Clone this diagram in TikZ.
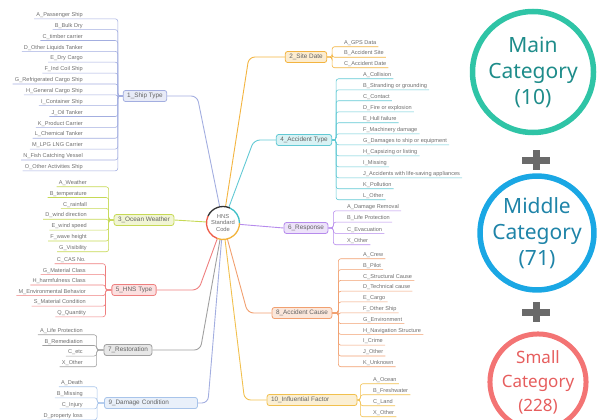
\documentclass[tikz,border=0pt]{standalone}
\usepackage{fontspec}
\setmainfont{Liberation Sans}
\newfontfamily\catfont{Noto Sans}

\definecolor{shipcol}{HTML}{A3AEE0}
\definecolor{weathercol}{HTML}{C6D955}
\definecolor{hnscol}{HTML}{EE7F7F}
\definecolor{restcol}{HTML}{A0A0A0}
\definecolor{damagecol}{HTML}{A8C4EA}
\definecolor{sitecol}{HTML}{F3B440}
\definecolor{typecol}{HTML}{62C9D4}
\definecolor{respcol}{HTML}{B68BEC}
\definecolor{causecol}{HTML}{F1A070}
\definecolor{factorcol}{HTML}{F1C04E}
\definecolor{leaftext}{HTML}{6E6E6E}
\definecolor{ringteal}{HTML}{3DBFC6}
\definecolor{ringdark}{HTML}{333333}
\definecolor{ringred}{HTML}{EE5C48}
\definecolor{ringgold}{HTML}{F2B33A}
\definecolor{maincol}{HTML}{2FC4A6}
\definecolor{maintext}{HTML}{1E8C8A}
\definecolor{midcol}{HTML}{1AA7E4}
\definecolor{midtext}{HTML}{1F84A8}
\definecolor{smallcol}{HTML}{F37474}
\definecolor{smalltext}{HTML}{E65E5E}
\definecolor{pluscol}{HTML}{6A6A6A}

\tikzset{
  leafl/.style={anchor=east, inner xsep=2pt, inner ysep=1pt, text=leaftext, font=\fontsize{5.6}{6.2}\selectfont},
  leafr/.style={leafl, anchor=west},
  twig/.style={draw=#1, line width=0.6pt, rounded corners=2.5pt},
  mainbox/.style={draw=#1, fill=#1!25, line width=0.8pt, rounded corners=2.5pt, inner xsep=4pt, inner ysep=2.6pt, text=leaftext!90!black, font=\fontsize{6.4}{7}\selectfont},
  limb/.style={draw=#1, line width=0.9pt, rounded corners=6pt},
  catring/.style={circle, draw=#1, line width=5.5pt, align=center, inner sep=0pt},
  plussign/.style={draw=pluscol, line width=7pt}
}

\begin{document}
\begin{tikzpicture}[x=1pt,y=1pt]
\useasboundingbox (0,0) rectangle (605,-420);

% centre topic
\node[circle, fill=white, minimum size=33pt, inner sep=0pt, outer sep=0pt, align=center, text=leaftext, font=\fontsize{5.8}{6.8}\selectfont] (hns) at (223,-223) {HNS\\Standard\\Code};

% main topics
\node[mainbox=shipcol] (b1) at (145,-96) {1\_Ship Type};
\node[mainbox=sitecol] (b2) at (306,-57) {2\_Site Date};
\node[mainbox=weathercol] (b3) at (144,-220) {3\_Ocean Weather};
\node[mainbox=typecol] (b4) at (304,-140) {4\_Accident Type};
\node[mainbox=hnscol] (b5) at (134,-290) {5\_HNS Type};
\node[mainbox=respcol] (b6) at (306,-228) {6\_Response};
\node[mainbox=restcol] (b7) at (128,-350) {7\_Restoration};
\node[mainbox=causecol] (b8) at (302,-313) {8\_Accident Cause};
\node[mainbox=damagecol, text width=85pt, align=left] (b9) at (151,-403) {9\_Damage Condition};
\node[mainbox=factorcol, text width=82pt, align=left] (b10) at (312,-400) {10\_Influential Factor};

% limbs to the centre
\draw[limb=shipcol] (b1.east) -- ++(30,0) -- (hns);
\draw[limb=weathercol] (b3.east) -- (hns);
\draw[limb=hnscol] (b5.east) -- ++(42,0) -- (hns);
\draw[limb=restcol] (b7.east) -- ++(48,0) -- (hns);
\draw[limb=shipcol] (b9.east) -- ++(10,0) -- (hns);
\draw[limb=sitecol] (b2.west) -- ++(-36,0) -- (hns);
\draw[limb=typecol] (b4.west) -- ++(-22,0) -- (hns);
\draw[limb=respcol] (hns) -- (b6.west);
\draw[limb=causecol] (b8.west) -- ++(-24,0) -- (hns);
\draw[limb=factorcol] (b10.west) -- ++(-22,0) -- (hns);

% coloured ring
\draw[ringteal, line width=1.3pt] (hns.0) arc[start angle=0, end angle=65, radius=16.5];
\draw[ringdark, line width=1.3pt] (hns.65) arc[start angle=65, end angle=155, radius=16.5];
\draw[ringred, line width=1.3pt] (hns.155) arc[start angle=155, end angle=250, radius=16.5];
\draw[ringgold, line width=1.3pt] (hns.250) arc[start angle=250, end angle=360, radius=16.5];

% 1 ship type
\coordinate (h1) at ([xshift=-5pt]b1.west);
\foreach \t [count=\i from 0] in {A\_Passenger Ship, B\_Bulk Dry, C\_timber carrier, D\_Other Liquids Tanker, E\_Dry Cargo, F\_Ind Coil Ship, G\_Refrigerated Cargo Ship, H\_General Cargo Ship, I\_Container Ship, J\_Oil Tanker, K\_Product Carrier, L\_Chemical Tanker, M\_LPG LNG Carrier, N\_Fish Catching Vessel, O\_Other Activities Ship} {
  \node[leafl] (l1-\i) at (85,{-15-10.86*\i}) {\t};
  \draw[twig=shipcol] (l1-\i.south west) -- (l1-\i.south west -| h1) -- (h1) -- (b1.west);
}

% 3 ocean weather
\coordinate (h3) at ([xshift=-5pt]b3.west);
\foreach \t [count=\i from 0] in {A\_Weather, B\_temperature, C\_rainfall, D\_wind direction, E\_wind speed, F\_wave height, G\_Visibility} {
  \node[leafl] (l3-\i) at (89,{-183-10.83*\i}) {\t};
  \draw[twig=weathercol] (l3-\i.south west) -- (l3-\i.south west -| h3) -- (h3) -- (b3.west);
}

% 5 hns type
\coordinate (h5) at ([xshift=-6pt]b5.west);
\foreach \t [count=\i from 0] in {C\_CAS No., G\_Material Class, H\_harmfulness Class, M\_Environmental Behavior, S\_Material Condition, Q\_Quantity} {
  \node[leafl] (l5-\i) at (88,{-260-10.6*\i}) {\t};
  \draw[twig=hnscol] (l5-\i.south west) -- (l5-\i.south west -| h5) -- (h5) -- (b5.west);
}

% 7 restoration
\coordinate (h7) at ([xshift=-7pt]b7.west);
\foreach \t [count=\i from 0] in {A\_Life Protection, B\_Remediation, C\_etc, X\_Other} {
  \node[leafl] (l7-\i) at (85,{-331-10.67*\i}) {\t};
  \draw[twig=restcol] (l7-\i.south west) -- (l7-\i.south west -| h7) -- (h7) -- (b7.west);
}

% 9 damage condition
\coordinate (h9) at ([xshift=-7pt]b9.west);
\foreach \t [count=\i from 0] in {A\_Death, B\_Missing, C\_Injury, D\_property loss} {
  \node[leafl] (l9-\i) at (85,{-383-11*\i}) {\t};
  \draw[twig=damagecol] (l9-\i.south west) -- (l9-\i.south west -| h9) -- (h9) -- (b9.west);
}

% 2 site date
\coordinate (h2) at ([xshift=5pt]b2.east);
\foreach \t [count=\i from 0] in {A\_GPS Data, B\_Accident Site, C\_Accident Date} {
  \node[leafr] (l2-\i) at (342,{-43-10.5*\i}) {\t};
  \draw[twig=sitecol] (l2-\i.south east) -- (l2-\i.south west -| h2) -- (h2) -- (b2.east);
}

% 4 accident type
\coordinate (h4) at ([xshift=4pt]b4.east);
\foreach \t [count=\i from 0] in {A\_Collision, B\_Stranding or grounding, C\_Contact, D\_Fire or explosion, E\_Hull failure, F\_Machinery damage, G\_Damages to ship or equipment, H\_Capsizing or listing, I\_Missing, J\_Accidents with life-saving appliances, K\_Pollution, L\_Other} {
  \node[leafr] (l4-\i) at (361,{-75-11*\i}) {\t};
  \draw[twig=typecol] (l4-\i.south east) -- (l4-\i.south west -| h4) -- (h4) -- (b4.east);
}

% 6 response
\coordinate (h6) at ([xshift=5pt]b6.east);
\foreach \t [count=\i from 0] in {A\_Damage Removal, B\_Life Protection, C\_Evacuation, X\_Other} {
  \node[leafr] (l6-\i) at (345,{-207-11.33*\i}) {\t};
  \draw[twig=respcol] (l6-\i.south east) -- (l6-\i.south west -| h6) -- (h6) -- (b6.east);
}

% 8 accident cause
\coordinate (h8) at ([xshift=6pt]b8.east);
\foreach \t [count=\i from 0] in {A\_Crew, B\_Pilot, C\_Structural Cause, D\_Technical cause, E\_Cargo, F\_Other Ship, G\_Environment, H\_Navigation Structure, I\_Crime, J\_Other, K\_Unknown} {
  \node[leafr] (l8-\i) at (361,{-255-10.8*\i}) {\t};
  \draw[twig=causecol] (l8-\i.south east) -- (l8-\i.south west -| h8) -- (h8) -- (b8.east);
}

% 10 influential factor
\coordinate (h10) at ([xshift=3pt]b10.east);
\foreach \t [count=\i from 0] in {A\_Ocean, B\_Freshwater, C\_Land, X\_Other} {
  \node[leafr] (l10-\i) at (371,{-380-11*\i}) {\t};
  \draw[twig=factorcol] (l10-\i.south east) -- (l10-\i.south west -| h10) -- (h10) -- (b10.east);
}

% category legend
\node[catring=maincol, minimum size=121pt, text=maintext, font=\catfont\fontsize{21}{26}\selectfont] (mainc) at (533,-72) {Main\\Category\\(10)};
\draw[plussign] (522,-160) -- (550,-160);
\draw[plussign] (536,-150) -- (536,-170);
\node[catring=midcol, minimum size=105pt, text=midtext, font=\catfont\fontsize{21}{26}\selectfont] (midc) at (537,-233) {Middle\\Category\\(71)};
\draw[plussign] (522,-312) -- (550,-312);
\draw[plussign] (536,-302) -- (536,-322);
\node[catring=smallcol, minimum size=86pt, line width=5pt, text=smalltext, font=\catfont\fontsize{17}{24}\selectfont] (smallc) at (538,-382) {Small\\Category\\(228)};
\end{tikzpicture}
\end{document}
